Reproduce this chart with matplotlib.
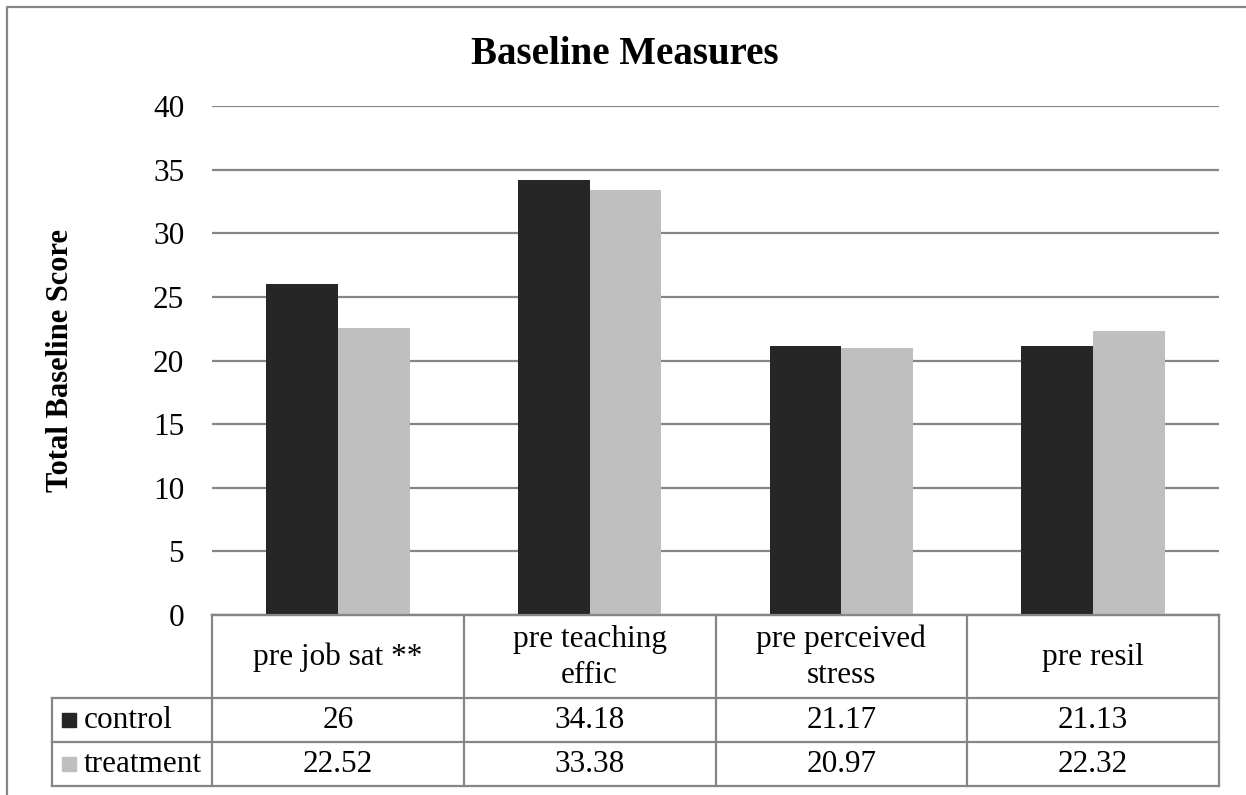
import numpy as np
import matplotlib.pyplot as plt
from matplotlib.lines import Line2D
from matplotlib.patches import Rectangle

# Baseline scores per measure
categories = ['pre job sat **', 'pre teaching\neffic', 'pre perceived\nstress', 'pre resil']
control = [26, 34.18, 21.17, 21.13]
treatment = [22.52, 33.38, 20.97, 22.32]
series_names = ['control', 'treatment']

dark = '#262626'
light = '#bfbfbf'
gridc = '#868686'
W, H = 1246, 795

plt.rcParams['font.family'] = ['Liberation Serif', 'DejaVu Serif']

fig = plt.figure(figsize=(W / 100, H / 100), dpi=100)


def fx(x):
    return x / W


def fy(y):
    return 1 - y / H


def fmt(v):
    return ('%.2f' % v).rstrip('0').rstrip('.')


# Plot area in pixel terms
left, right, top, bottom = 212, 1219, 106, 615
ax = fig.add_axes([fx(left), fy(bottom), fx(right - left), (bottom - top) / H])

n = len(categories)
x = np.arange(n)
barW = 0.285
ax.bar(x - barW / 2, control, barW, color=dark, zorder=3)
ax.bar(x + barW / 2, treatment, barW, color=light, zorder=3)

ax.set_xlim(-0.5, n - 0.5)
ax.set_ylim(0, 40)
ax.set_yticks(range(0, 41, 5))
ax.set_xticks([])
ax.tick_params(axis='y', length=0, pad=20, labelsize=22.5)
ax.yaxis.grid(True, color=gridc, linewidth=1.6, zorder=0)
for s in ['left', 'top', 'right']:
    ax.spines[s].set_visible(False)
ax.spines['bottom'].set_color(gridc)
ax.spines['bottom'].set_linewidth(1.6)

# Data table under the axis
rowY = [615, 698, 742, 786]
labLeft = 52
colX = [left + k * (right - left) / n for k in range(n + 1)]
lw = 1.6


def hline(x0, x1, y):
    fig.add_artist(Line2D([fx(x0), fx(x1)], [fy(y), fy(y)], color=gridc, lw=lw))


def vline(x0, y0, y1):
    fig.add_artist(Line2D([fx(x0), fx(x0)], [fy(y0), fy(y1)], color=gridc, lw=lw))


hline(left, right, rowY[0])
for y in rowY[1:]:
    hline(labLeft, right, y)
for cx in colX:
    vline(cx, rowY[0], rowY[3])
vline(labLeft, rowY[1], rowY[3])

for i, cat in enumerate(categories):
    cx = (colX[i] + colX[i + 1]) / 2
    fig.text(fx(cx), fy((rowY[0] + rowY[1]) / 2 + 1), cat, ha='center', va='center',
             fontsize=22.5, linespacing=1.3)
    fig.text(fx(cx), fy((rowY[1] + rowY[2]) / 2), fmt(control[i]), ha='center',
             va='center', fontsize=22.5)
    fig.text(fx(cx), fy((rowY[2] + rowY[3]) / 2), fmt(treatment[i]), ha='center',
             va='center', fontsize=22.5)

for r, (name, col) in enumerate(zip(series_names, [dark, light])):
    yc = (rowY[r + 1] + rowY[r + 2]) / 2
    fig.add_artist(Rectangle((fx(62), fy(yc + 7)), 14 / W, 14 / H, color=col,
                             transform=fig.transFigure))
    fig.text(fx(84), fy(yc), name, ha='left', va='center', fontsize=22.5)

fig.text(fx(625), fy(55), 'Baseline Measures', ha='center', va='center',
         fontsize=28, fontweight='bold')
fig.text(fx(61), fy(360), 'Total Baseline Score', ha='center', va='center',
         rotation=90, fontsize=22, fontweight='bold')

# Outer chart frame
fig.add_artist(Line2D([fx(7), fx(7), fx(W + 5)], [fy(H + 5), fy(7), fy(7)],
                      color=gridc, lw=1.6))

fig.savefig('out.png', dpi=100)
